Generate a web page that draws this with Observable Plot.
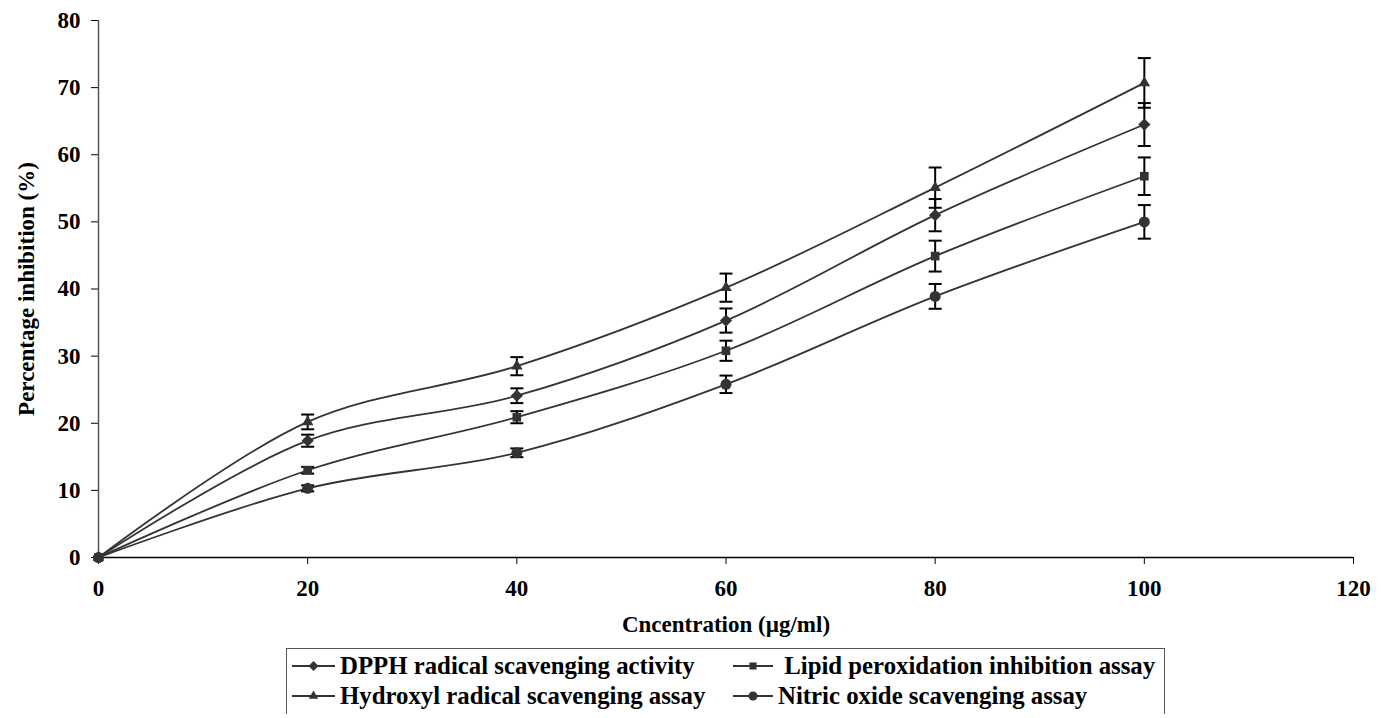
<!DOCTYPE html>
<html>
<head>
<meta charset="utf-8">
<script src="https://cdn.jsdelivr.net/npm/d3@7"></script>
<script src="https://cdn.jsdelivr.net/npm/@observablehq/plot@0.6"></script>
<style>
  body { margin: 0; background: #fff; font-family: "Liberation Serif", "Times New Roman", serif; }
  #chart svg { display: block; }
  #legend {
    margin-left: 286px; width: 877px; border: 1px solid #555; border-bottom: none;
    display: grid; grid-template-columns: 446px 431px; row-gap: 2px; padding: 3px 0 4px 0;
    font-weight: bold; font-size: 24.8px; color: #000; line-height: 28px;
  }
  .item { display: flex; align-items: center; white-space: nowrap; }
  .item svg { margin-right: 5px; }
  .item.c1 { padding-left: 5px; }
</style>
</head>
<body>
<div id="chart"></div>
<div id="legend"></div>
<script>
const conc = [0, 20, 40, 60, 80, 100];
const seriesNames = [
  "DPPH radical scavenging activity",
  "Lipid peroxidation inhibition assay",
  "Hydroxyl radical scavenging assay",
  "Nitric oxide scavenging assay"
];
const dpph = [0, 17.4, 24.1, 35.3, 51.0, 64.5];
const dpphErr = [0, 0.9, 1.1, 1.8, 2.4, 3.2];
const lipid = [0, 13.0, 20.9, 30.8, 44.9, 56.8];
const lipidErr = [0, 0.5, 0.9, 1.5, 2.3, 2.8];
const hydroxyl = [0, 20.2, 28.5, 40.2, 55.1, 70.7];
const hydroxylErr = [0, 1.1, 1.35, 2.1, 3.0, 3.7];
const nitric = [0, 10.3, 15.6, 25.8, 38.9, 50.0];
const nitricErr = [0, 0.45, 0.65, 1.3, 1.85, 2.5];
const xTicks = [0, 20, 40, 60, 80, 100, 120];
const yTicks = [0, 10, 20, 30, 40, 50, 60, 70, 80];

const symbols = ["diamond2", "square2", "triangle2", "circle"];
const valuesBySeries = [dpph, lipid, hydroxyl, nitric];
const errBySeries = [dpphErr, lipidErr, hydroxylErr, nitricErr];

const rows = [];
seriesNames.forEach((name, si) => {
  conc.forEach((c, i) => {
    rows.push({series: name, sym: symbols[si], x: c, y: valuesBySeries[si][i], e: errBySeries[si][i]});
  });
});
const errRows = rows.filter(d => d.e > 0);

const capSymbol = {
  draw(context, size) {
    const w = 6.5;
    context.moveTo(-w, 0);
    context.lineTo(w, 0);
  }
};

const ink = "#333";
const font = "'Liberation Serif', 'Times New Roman', serif";
const chart = Plot.plot({
  width: 1381,
  height: 648,
  marginLeft: 98,
  marginRight: 28,
  marginTop: 20,
  marginBottom: 91,
  style: {fontFamily: font, fontWeight: "bold", color: "#000", background: "#fff"},
  x: {domain: [0, 120]},
  y: {domain: [0, 80]},
  symbol: {type: "identity"},
  marks: [
    Plot.axisX(xTicks, {tickSize: 7, tickPadding: 15, fontSize: 23, fontWeight: "bold",
      label: "Cncentration (µg/ml)", labelAnchor: "center", labelOffset: 74, labelArrow: "none"}),
    Plot.axisY(yTicks, {tickSize: 7, tickPadding: 11, fontSize: 23, fontWeight: "bold",
      label: "Percentage inhibition (%)", labelAnchor: "center", labelOffset: 81, labelArrow: "none"}),
    Plot.ruleX([0], {stroke: "#555", strokeWidth: 1.5}),
    Plot.ruleY([0], {stroke: "#000", strokeWidth: 1.5}),
    Plot.line(rows, {x: "x", y: "y", z: "series", curve: "catmull-rom", stroke: ink, strokeWidth: 1.8}),
    Plot.ruleX(errRows, {x: "x", y1: d => d.y - d.e, y2: d => d.y + d.e, stroke: "#000", strokeWidth: 2}),
    Plot.dot(errRows, {x: "x", y: d => d.y + d.e, symbol: () => capSymbol, r: 5, stroke: "#000", strokeWidth: 2, fill: "none"}),
    Plot.dot(errRows, {x: "x", y: d => d.y - d.e, symbol: () => capSymbol, r: 5, stroke: "#000", strokeWidth: 2, fill: "none"}),
    Plot.dot(rows, {x: "x", y: "y", symbol: "sym", r: 5.5, fill: ink, stroke: "none"})
  ]
});
document.getElementById("chart").append(chart);

// legend
const legend = d3.select("#legend");
const symMap = {diamond2: d3.symbolDiamond2, square2: d3.symbolSquare2, triangle2: d3.symbolTriangle2, circle: d3.symbolCircle};
[0, 1, 2, 3].forEach(si => {
  const item = legend.append("div").attr("class", "item " + (si % 2 === 0 ? "c1" : "c2"));
  const w = si % 2 === 0 ? 43 : 40;
  const sw = item.append("svg").attr("width", w).attr("height", 16);
  sw.append("line").attr("x1", 0).attr("x2", w).attr("y1", 8).attr("y2", 8).attr("stroke", ink).attr("stroke-width", 2);
  sw.append("path").attr("transform", `translate(${w / 2},8)`)
    .attr("d", d3.symbol(symMap[symbols[si]], 64)())
    .attr("fill", ink);
  item.append("span").html((si === 1 ? "&nbsp;" : "") + seriesNames[si]);
});
</script>
</body>
</html>
